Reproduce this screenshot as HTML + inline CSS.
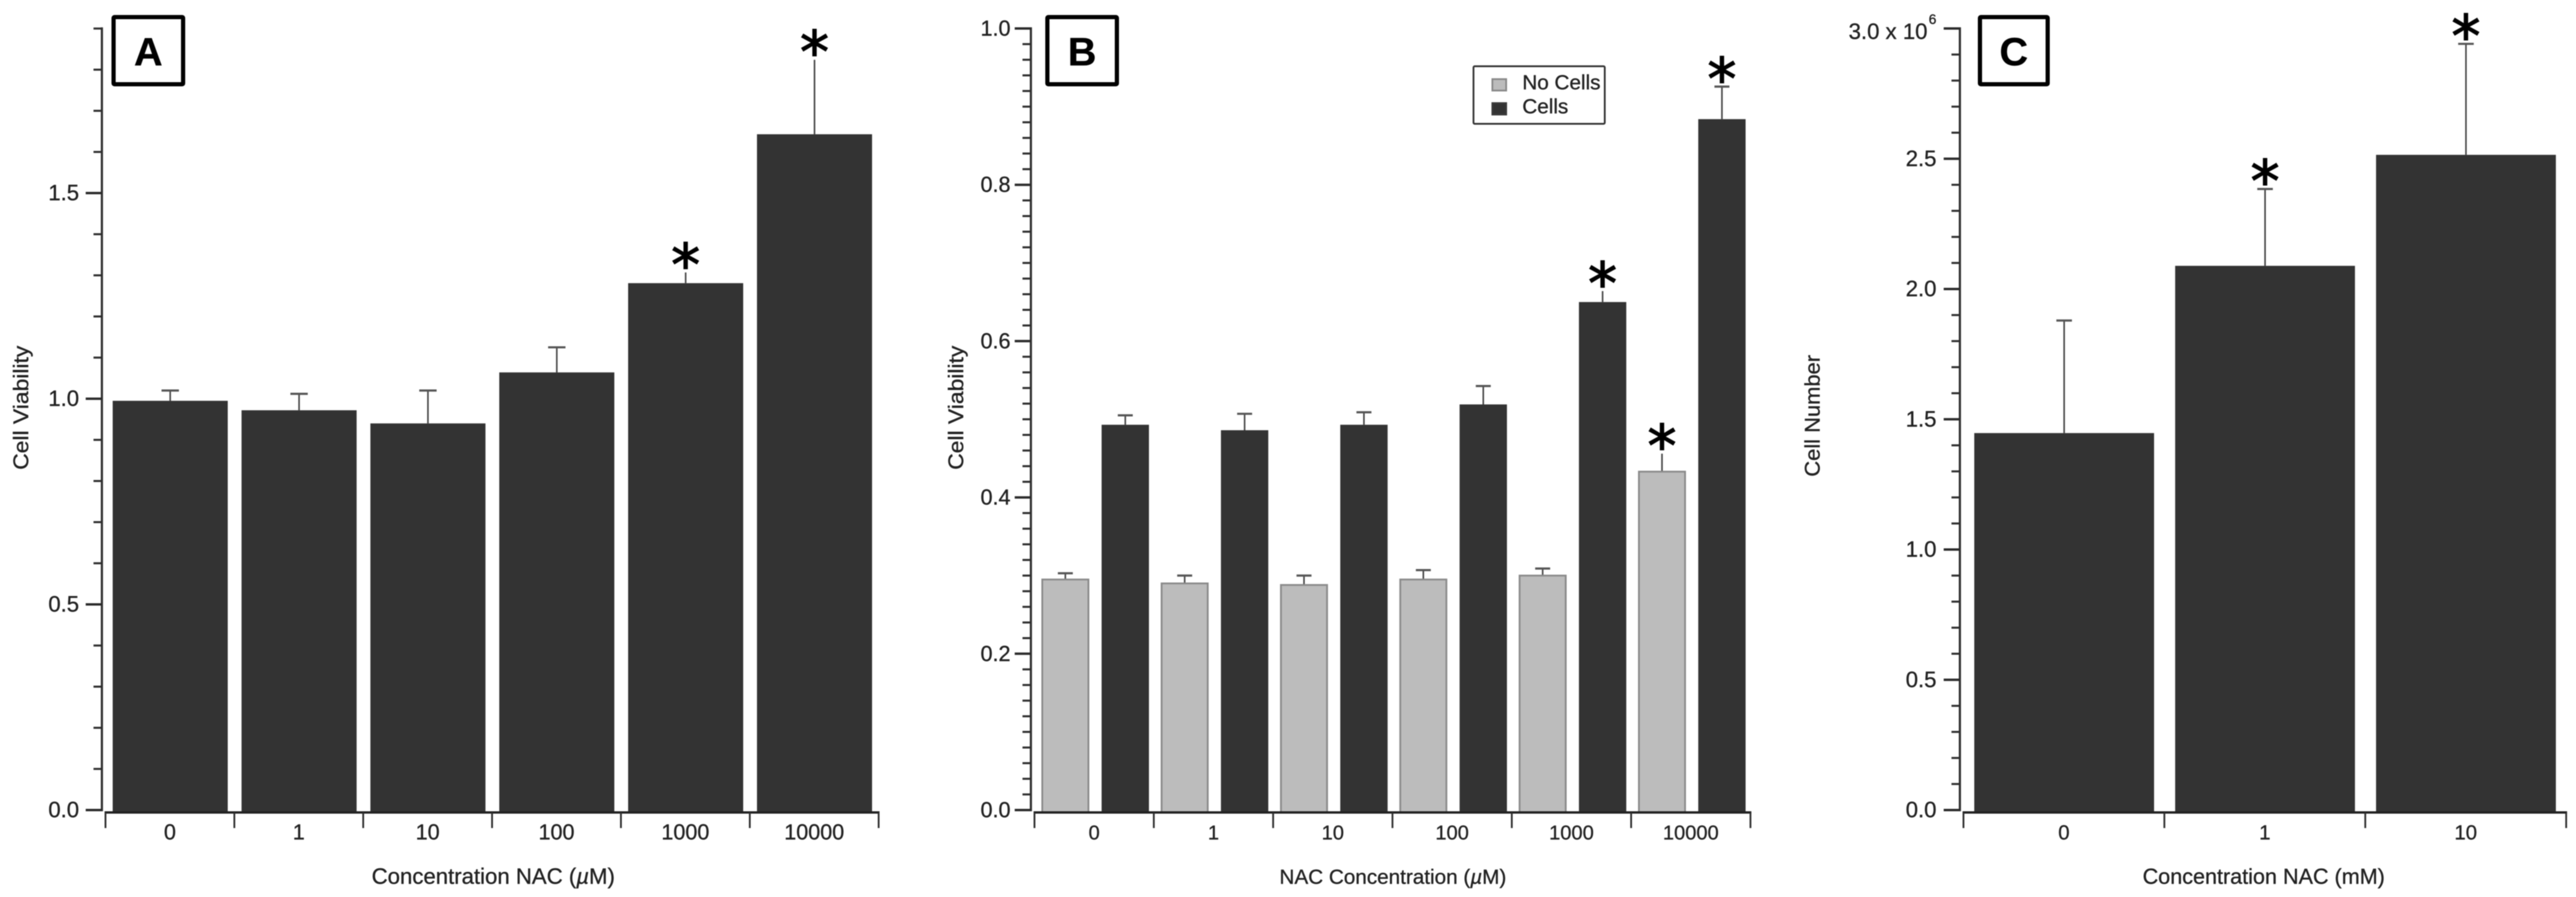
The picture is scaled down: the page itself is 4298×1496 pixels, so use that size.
<!DOCTYPE html>
<html lang="en">
<head>
<meta charset="utf-8">
<title>NAC cell viability and cell number bar charts</title>
<style>
  html, body { margin: 0; padding: 0; background: #fff; }
  body { width: 4298px; height: 1496px; overflow: hidden; }
  svg { display: block; filter: blur(0.9px); font-family: "Liberation Sans", Arial, sans-serif; }
  text { fill: #222; stroke: #222; stroke-width: 0.5px; }
</style>
</head>
<body>
<svg id="figure" xmlns="http://www.w3.org/2000/svg" width="4298" height="1496" viewBox="0 0 4298 1496">
  <rect x="0" y="0" width="4298" height="1496" fill="#fff"/>

  <g id="panel-a">
    <text transform="translate(47 680) rotate(-90)" text-anchor="middle" font-size="35" textLength="207" lengthAdjust="spacingAndGlyphs">Cell Viability</text>
    <text x="823" y="1474" text-anchor="middle" font-size="37">Concentration NAC (<tspan font-style="italic">µ</tspan>M)</text>
  </g>

  <g id="panel-b">
    <text transform="translate(1607 680) rotate(-90)" text-anchor="middle" font-size="35" textLength="207" lengthAdjust="spacingAndGlyphs">Cell Viability</text>
    <text x="2324" y="1474" text-anchor="middle" font-size="34.5">NAC Concentration (<tspan font-style="italic">µ</tspan>M)</text>
  </g>

  <g id="panel-c">
    <text transform="translate(3036 693.5) rotate(-90)" text-anchor="middle" font-size="35" textLength="203" lengthAdjust="spacingAndGlyphs">Cell Number</text>
    <text x="3777" y="1474" text-anchor="middle" font-size="36">Concentration NAC (mM)</text>
  </g>
</svg>

<script>
// ---------- Panel A data ----------
const aCategories = ['0', '1', '10', '100', '1000', '10000'];
const aValues = [0.995, 0.972, 0.94, 1.064, 1.281, 1.643];
const aErrorTops = [1.02, 1.012, 1.02, 1.125, 1.307, 1.824];
const aCaps = [true, true, true, true, false, false];
const aStars = [false, false, false, false, true, true];
const aTickValues = [0, 0.5, 1, 1.5];
const aTickLabels = ['0.0', '0.5', '1.0', '1.5'];

// ---------- Panel B data ----------
const bCategories = ['0', '1', '10', '100', '1000', '10000'];
const bNoCellsValues = [0.295, 0.29, 0.288, 0.295, 0.3, 0.433];
const bNoCellsErrorTops = [0.303, 0.3, 0.3, 0.307, 0.309, 0.456];
const bNoCellsCaps = [true, true, true, true, true, false];
const bNoCellsStars = [false, false, false, false, false, true];
const bCellsValues = [0.493, 0.486, 0.493, 0.519, 0.65, 0.884];
const bCellsErrorTops = [0.505, 0.507, 0.509, 0.5425, 0.664, 0.9256];
const bCellsCaps = [true, true, true, true, false, true];
const bCellsStars = [false, false, false, false, true, true];
const bTickValues = [0, 0.2, 0.4, 0.6, 0.8, 1];
const bTickLabels = ['0.0', '0.2', '0.4', '0.6', '0.8', '1.0'];

// ---------- Panel C data ----------
const cCategories = ['0', '1', '10'];
const cValues = [1.447, 2.089, 2.515];
const cErrorTops = [1.879, 2.384, 2.941];
const cCaps = [true, true, true];
const cStars = [false, true, true];
const cTickValues = [0, 0.5, 1, 1.5, 2, 2.5, 3];
const cTickLabels = ['0.0', '0.5', '1.0', '1.5', '2.0', '2.5', '3.0 x 10'];
const cTickExponent = '6';

const SVG_NS = 'http://www.w3.org/2000/svg';

function make(parent, tag, attrs, text) {
  const el = document.createElementNS(SVG_NS, tag);
  for (const k in attrs) el.setAttribute(k, attrs[k]);
  if (text !== undefined) el.textContent = text;
  parent.appendChild(el);
  return el;
}

function makeYScale(y0, pxPerUnit) {
  return function (v) { return y0 - v * pxPerUnit; };
}

function makeBand(start, step) {
  return function (i) { return start + step * i; };
}

function drawYAxis(g, p) {
  const axis = make(g, 'line', { x1: p.axisX, x2: p.axisX, y1: p.y(p.max) - 2, y2: p.y(0) + 2, stroke: '#2e2e2e', 'stroke-width': 3.6 });
  
  

  const minorCount = Math.round(p.max / p.minorStep);
  for (let i = 0; i <= minorCount; i++) {
    const v = i * p.minorStep;
    const isMajor = p.tickValues.some(function (t) { return Math.abs(t - v) < 1e-6; });
    if (isMajor) continue;
    const t = make(g, 'line', { x1: p.axisX - 14, x2: p.axisX, y1: p.y(v), y2: p.y(v), stroke: '#2e2e2e', 'stroke-width': 3.4 });
    
    
  }

  p.tickValues.forEach(function (v, i) {
    const t = make(g, 'line', { x1: p.axisX - 27, x2: p.axisX, y1: p.y(v), y2: p.y(v), stroke: '#2a2a2a', 'stroke-width': 4 });
    
    

    const label = p.tickLabels[i];
    const hasExponent = label.indexOf(' x ') >= 0;
    const lx = hasExponent ? p.labelEnd - 15 : p.labelEnd;
    const ly = p.y(v) + (hasExponent ? 17.5 : 12);
    const txt = make(g, 'text', { x: lx, y: ly, 'text-anchor': 'end', 'font-size': p.yFont }, label);
    
    

    if (hasExponent) {
      const sup = make(g, 'text', { x: lx + 2, y: ly - 25, 'font-size': 23 }, cTickExponent);
      
      
    }
  });
}

function drawXAxis(g, p) {
  const n = p.categories.length;
  const axis = make(g, 'line', { x1: p.band(0) - 1.5, x2: p.band(n) + 1.5, y1: p.axisY, y2: p.axisY, stroke: '#222', 'stroke-width': 4 });
  
  

  for (let i = 0; i <= n; i++) {
    const t = make(g, 'line', { x1: p.band(i), x2: p.band(i), y1: p.axisY, y2: p.axisY + 26, stroke: '#2e2e2e', 'stroke-width': 3 });
    
    
  }

  p.categories.forEach(function (c, i) {
    const txt = make(g, 'text', { x: p.band(i) + p.step / 2, y: 1400, 'text-anchor': 'middle', 'font-size': p.xFont }, c);
    
    
  });
}

function drawSeries(g, p, s) {
  s.values.forEach(function (v, i) {
    const left = p.band(i) + s.offset;
    const center = left + s.width / 2;
    const top = p.y(v);
    const errTop = p.y(s.errorTops[i]);

    const stem = make(g, 'line', { x1: center, x2: center, y1: top, y2: errTop, stroke: '#444', 'stroke-width': 2.6 });
    
    

    if (s.caps[i]) {
      const cap = make(g, 'line', { x1: center - p.capWidth / 2, x2: center + p.capWidth / 2, y1: errTop, y2: errTop, stroke: '#555', 'stroke-width': 3.6 });
      
      
    }

    const bar = make(g, 'rect', {
      x: left, y: top, width: s.width, height: p.axisY - top,
      fill: s.fill, stroke: s.stroke, 'stroke-width': s.strokeWidth
    });
    
    

    if (s.stars[i]) {
      const star = make(g, 'text', {
        x: center, y: errTop + 21, 'text-anchor': 'middle', 'font-size': 96,
        style: 'font-family:"DejaVu Sans",sans-serif;fill:#000;stroke:#000;stroke-width:2px'
      }, '*');
      
      
    }
  });
}

function drawPanel(p) {
  const g = document.getElementById('panel-' + p.id);
  drawYAxis(g, p);
  p.series.forEach(function (s) { drawSeries(g, p, s); });
  drawXAxis(g, p);
}

function drawBadge(parentId, letter, x, width) {
  const g = document.getElementById(parentId);
  const box = make(g, 'rect', { x: x + 3.5, y: 28.5, width: width - 7, height: 112, fill: '#fff', stroke: '#000', 'stroke-width': 7, rx: 1.5 });
  
  
  const t = make(g, 'text', { x: x + width / 2, y: 109, 'text-anchor': 'middle', 'font-size': 66, 'font-weight': 'bold', style: 'fill:#000;stroke:#000' }, letter);
  
  
}

drawPanel({
  id: 'a', categories: aCategories,
  y: makeYScale(1351, 686), max: 1.9, minorStep: 0.1,
  tickValues: aTickValues, tickLabels: aTickLabels,
  band: makeBand(176, 215), step: 215,
  axisX: 170, axisY: 1355, labelEnd: 132, xFont: 36, yFont: 37, capWidth: 29,
  series: [{
    key: 'cells', values: aValues, errorTops: aErrorTops, caps: aCaps, stars: aStars,
    offset: 12, width: 192, fill: '#333', stroke: 'none', strokeWidth: 0
  }]
});

drawPanel({
  id: 'b', categories: bCategories,
  y: makeYScale(1351, 1303.5), max: 1, minorStep: 0.02,
  tickValues: bTickValues, tickLabels: bTickLabels,
  band: makeBand(1726, 199.1), step: 199.1,
  axisX: 1720, axisY: 1355, labelEnd: 1686, xFont: 33.5, yFont: 36, capWidth: 25,
  series: [{
    key: 'no-cells', values: bNoCellsValues, errorTops: bNoCellsErrorTops, caps: bNoCellsCaps, stars: bNoCellsStars,
    offset: 13, width: 77, fill: '#bcbcbc', stroke: '#8a8a8a', strokeWidth: 3
  }, {
    key: 'cells', values: bCellsValues, errorTops: bCellsErrorTops, caps: bCellsCaps, stars: bCellsStars,
    offset: 112, width: 79, fill: '#333', stroke: 'none', strokeWidth: 0
  }]
});

drawPanel({
  id: 'c', categories: cCategories,
  y: makeYScale(1351, 434.5), max: 3, minorStep: 0.1,
  tickValues: cTickValues, tickLabels: cTickLabels,
  band: makeBand(3276, 335.2), step: 335.2,
  axisX: 3270, axisY: 1355, labelEnd: 3231, xFont: 34, yFont: 37, capWidth: 26,
  series: [{
    key: 'cells', values: cValues, errorTops: cErrorTops, caps: cCaps, stars: cStars,
    offset: 18, width: 300, fill: '#333', stroke: 'none', strokeWidth: 0
  }]
});

drawBadge('panel-a', 'A', 186, 123);
drawBadge('panel-b', 'B', 1744, 123);
drawBadge('panel-c', 'C', 3300, 120);

// ---------- Legend ----------
const legendLabels = ['No Cells', 'Cells'];
const legendFills = ['#bcbcbc', '#333'];
const legendStrokes = ['#8a8a8a', '#3a3a3a'];

(function drawLegend() {
  const pb = document.getElementById('panel-b');
  const g = make(pb, 'g', {});
  
  
  const box = make(g, 'rect', { x: 2458.5, y: 110.5, width: 219, height: 96, fill: '#fff', stroke: '#333', 'stroke-width': 3, rx: 2 });
  
  
  legendLabels.forEach(function (label, i) {
    const sw = make(g, 'rect', { x: 2490, y: 132 + i * 40, width: 23, height: 19, fill: legendFills[i], stroke: legendStrokes[i], 'stroke-width': 3 });
    
    
    const t = make(g, 'text', { x: 2540, y: 149 + i * 40, 'font-size': 34.5 }, label);
    
    
  });
})();
</script>
</body>
</html>
